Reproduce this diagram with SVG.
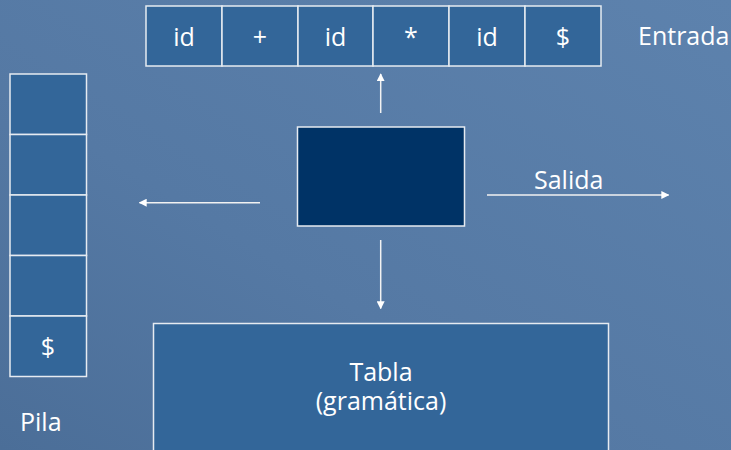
<svg xmlns="http://www.w3.org/2000/svg" width="731" height="450" viewBox="0 0 731 450">
<defs>
<linearGradient id="bg" x1="1" y1="0" x2="0" y2="1">
<stop offset="0" stop-color="#5d82ad"/>
<stop offset="0.6" stop-color="#5579a4"/>
<stop offset="1" stop-color="#4b6e98"/>
</linearGradient>
<marker id="ah" viewBox="0 0 10 10" refX="9" refY="5" markerWidth="8" markerHeight="8" markerUnits="userSpaceOnUse" orient="auto">
<path d="M0,0 L10,5 L0,10 Z" fill="#ffffff"/>
</marker>
<style>
.cell{fill:#336699;stroke:#e6ebf1;stroke-width:1.5}
.ctrl{fill:#003366;stroke:#e6ebf1;stroke-width:1.5}
.t{font-family:"Open Sans","DejaVu Sans",sans-serif;font-size:25px;fill:#ffffff;text-anchor:middle}
.lbl{font-family:"Open Sans","DejaVu Sans",sans-serif;font-size:25px;fill:#ffffff}
.con{stroke:#f2f2f2;stroke-width:1.5;fill:none;marker-end:url(#ah)}
</style>
</defs>
<rect width="731" height="450" fill="url(#bg)"/>
<g id="entrada">
<rect class="cell" x="146" y="6" width="76" height="60"/>
<rect class="cell" x="222" y="6" width="76" height="60"/>
<rect class="cell" x="298" y="6" width="75" height="60"/>
<rect class="cell" x="373" y="6" width="76" height="60"/>
<rect class="cell" x="449" y="6" width="76" height="60"/>
<rect class="cell" x="525" y="6" width="76" height="60"/>
<text class="t" x="184" y="46">id</text>
<text class="t" x="260" y="46">+</text>
<text class="t" x="335.5" y="46">id</text>
<text class="t" x="411" y="46">*</text>
<text class="t" x="487" y="46">id</text>
<text class="t" x="563" y="46">$</text>
<text class="lbl" x="638" y="45">Entrada</text>
</g>
<g id="pila">
<rect class="cell" x="10" y="74" width="76.5" height="60.5"/>
<rect class="cell" x="10" y="134.5" width="76.5" height="60.5"/>
<rect class="cell" x="10" y="195" width="76.5" height="60.5"/>
<rect class="cell" x="10" y="255.5" width="76.5" height="60.5"/>
<rect class="cell" x="10" y="316" width="76.5" height="60.5"/>
<text class="t" x="48" y="356">$</text>
<text class="lbl" x="20" y="431">Pila</text>
</g>
<g id="control">
<rect class="ctrl" x="297.5" y="127" width="167" height="99"/>
</g>
<g id="tabla">
<rect class="cell" x="153.5" y="323.5" width="455" height="140"/>
<text class="t" x="381" y="381">Tabla</text>
<text class="t" x="381" y="410">(gramática)</text>
</g>
<g id="salida">
<text class="lbl" x="534" y="189">Salida</text>
</g>
<g id="connectors">
<line class="con" x1="380.7" y1="113" x2="380.7" y2="74"/>
<line class="con" x1="260" y1="202.7" x2="139.5" y2="202.7"/>
<line class="con" x1="487" y1="195" x2="668.5" y2="195"/>
<line class="con" x1="380.7" y1="240" x2="380.7" y2="308.5"/>
</g>
</svg>
